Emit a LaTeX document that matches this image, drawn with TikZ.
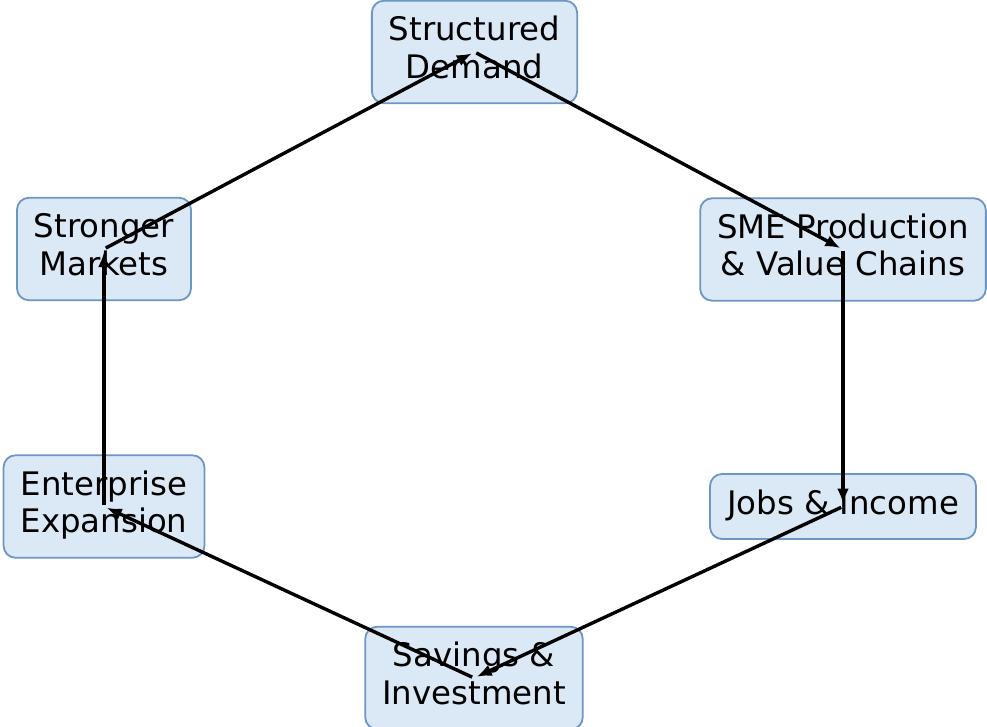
\documentclass[tikz,border=0pt]{standalone}
\usepackage{fontspec}
\setmainfont{DejaVu Sans}
\usetikzlibrary{arrows.meta}
\definecolor{boxfill}{RGB}{219,232,245}
\definecolor{boxline}{RGB}{108,150,195}
\tikzset{
  stage/.style={draw=boxline, fill=boxfill, line width=1.8pt, rounded corners=12pt,
    inner xsep=17pt, inner ysep=13.75pt, align=center,
    font=\fontsize{32.4pt}{37.5pt}\selectfont},
  flow/.style={line width=3.4pt, shorten <=2pt, shorten >=3pt,
    -{Latex[length=15pt,width=12pt]}}
}
\begin{document}
\begin{tikzpicture}[x=1pt,y=-1pt]
\useasboundingbox (0,0) rectangle (987,727);
\node[stage] (sd)  at (474.5,52)  {\strut Structured\\\strut Demand};
\node[stage] (sme) at (843,249.5) {\strut SME Production\\\strut \& Value Chains};
\node[stage] (job) at (843,506.5) {\strut Jobs \& Income};
\node[stage] (sav) at (474,678) {\strut Savings \&\\\strut Investment};
\node[stage] (ent) at (104,506.5) {\strut Enterprise\\\strut Expansion};
\node[stage] (sm)  at (104,249) {\strut Stronger\\\strut Markets};
\draw[flow] (sd.center) -- (sme.center);
\draw[flow] (sme.center) -- (job.center);
\draw[flow] (job.center) -- (sav.center);
\draw[flow] (sav.center) -- (ent.center);
\draw[flow] (ent.center) -- (sm.center);
\draw[flow] (sm.center) -- (sd.center);
\end{tikzpicture}
\end{document}
